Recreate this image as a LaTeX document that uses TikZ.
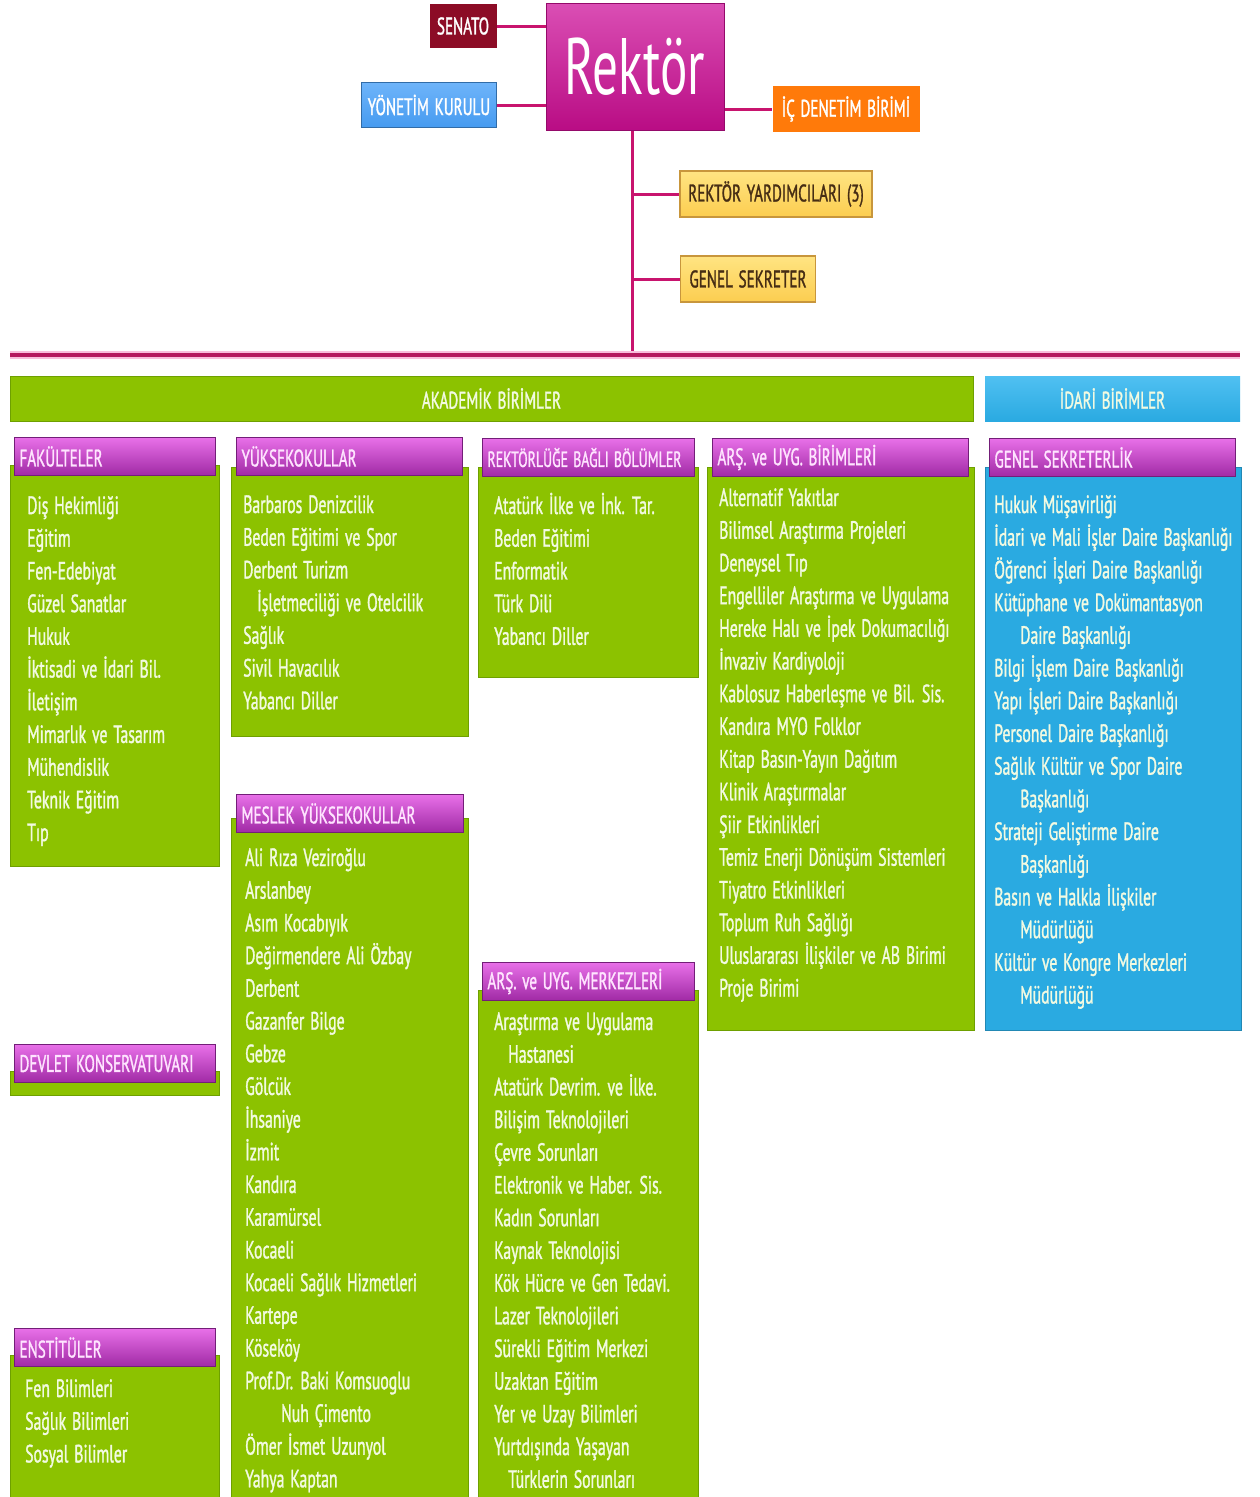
\documentclass[tikz,border=0pt]{standalone}
\usepackage{fontspec}
\setmainfont[FakeStretch=0.63,FakeBold=1.2,WordSpace=1.4]{PT Sans}
\newfontfamily\rektorfont[FakeStretch=0.64]{PT Sans}
\usetikzlibrary{positioning}
\definecolor{UniGreen}{RGB}{140,194,0}
\definecolor{UniGreenEdge}{RGB}{110,160,0}
\definecolor{UniBlue}{RGB}{42,170,225}
\definecolor{UniBlueTop}{RGB}{80,192,242}
\definecolor{HeadTop}{RGB}{232,112,232}
\definecolor{HeadBot}{RGB}{160,42,165}
\definecolor{HeadEdge}{RGB}{115,30,120}
\definecolor{HeadText}{RGB}{255,228,255}
\definecolor{ItemText}{RGB}{242,250,225}
\definecolor{SenatoRed}{RGB}{140,12,38}
\definecolor{RektorTop}{RGB}{218,78,180}
\definecolor{RektorBot}{RGB}{185,12,132}
\definecolor{KurulBlue}{RGB}{70,155,240}
\definecolor{KurulTop}{RGB}{110,180,250}
\definecolor{DenetimOrange}{RGB}{255,122,10}
\definecolor{YardYellow}{RGB}{252,205,80}
\definecolor{YardTop}{RGB}{255,228,130}
\definecolor{YardEdge}{RGB}{200,150,60}
\definecolor{YardText}{RGB}{70,45,20}
\definecolor{LinkPink}{RGB}{200,20,110}
\definecolor{BusPink}{RGB}{180,25,95}
\definecolor{GlowPink}{RGB}{248,190,220}

\newcommand{\itemfont}{\fontsize{25}{30}\selectfont}
\newcommand{\headfont}{\fontsize{24}{28}\selectfont}
\newcommand{\unitlist}[4]{%
  \foreach \t [count=\i from 0] in {#4}
    \node[item] (#1\i) at (#2,#3+\i*32.7) {\t};}

\begin{document}
\begin{tikzpicture}[x=1pt,y=-1pt,
    topbox/.style={draw=none,text=white,inner sep=0pt,font=\headfont},
    yellowbox/.style={draw=YardEdge,line width=1.2pt,top color=YardTop,bottom color=YardYellow,
      text=YardText,inner sep=0pt,minimum height=46pt,font=\headfont},
    link/.style={LinkPink,line width=3pt},
    bar/.style={inner sep=0pt,minimum height=45pt,text=ItemText,font=\fontsize{24}{28}\selectfont},
    body/.style={anchor=north west,fill=UniGreen,draw=UniGreenEdge,line width=0.8pt,inner sep=0pt},
    head/.style={anchor=north west,top color=HeadTop,bottom color=HeadBot,draw=HeadEdge,line width=1pt,
      minimum height=38pt,inner xsep=5pt,inner ysep=0pt,align=flush left,text=HeadText,font=\headfont},
    item/.style={anchor=base west,inner sep=0pt,text=ItemText,font=\itemfont}]
  \useasboundingbox[fill=white] (0,0) rectangle (1260,1497);

  \node[topbox,fill=SenatoRed,minimum width=67pt,minimum height=44pt] (senato) at (463,26) {SENATO};
  \node[topbox,top color=RektorTop,bottom color=RektorBot,draw=RektorBot!80!black,line width=1pt,
    minimum width=178pt,minimum height=127pt,font=\rektorfont\fontsize{80}{80}\selectfont] (rektor) at (635,67) {Rektör};
  \node[topbox,top color=KurulTop,bottom color=KurulBlue,draw=KurulBlue!70!black,
    minimum width=135pt,minimum height=45pt] (yonetim) at (429,105) {YÖNETİM KURULU};
  \node[topbox,fill=DenetimOrange,minimum width=147pt,minimum height=46pt] (denetim) at (846,109) {İÇ DENETİM BİRİMİ};
  \node[yellowbox,minimum width=192pt] (yardimci) at (776,194) {REKTÖR YARDIMCILARI (3)};
  \node[yellowbox,minimum width=135pt] (gensek) at (748,279) {GENEL SEKRETER};

  \coordinate (busL) at (10,355);
  \coordinate (busR) at (1240,355);
  \coordinate (trunk) at (632,355);

  \draw[link] (senato.east) -- (senato.east -| rektor.west);
  \draw[link] (yonetim.east) -- (yonetim.east -| rektor.west);
  \draw[link] (rektor.east |- denetim.west) -- (denetim.west);
  \draw[link] (rektor.south -| trunk) -- (trunk);
  \draw[link] (yardimci.west -| trunk) -- (yardimci.west);
  \draw[link] (gensek.west -| trunk) -- (gensek.west);
  \draw[GlowPink,line width=8pt] (busL) -- (busR);
  \draw[BusPink,line width=4pt] (busL) -- (busR);

  \node[bar,fill=UniGreen,draw=UniGreenEdge,minimum width=963pt] (akademik) at (491.5,398.5) {AKADEMİK BİRİMLER};
  \node[bar,top color=UniBlueTop,bottom color=UniBlue,minimum width=255pt] (idari) at (1112.5,398.5) {İDARİ BİRİMLER};

  \node[body,minimum width=209pt,minimum height=401pt] (fakbox) at (10,465) {};
  \node[head,text width=191pt] (fakhead) at (14,437) {FAKÜLTELER};
  \unitlist{fak}{27}{514}{Diş Hekimliği,Eğitim,Fen-Edebiyat,Güzel Sanatlar,Hukuk,İktisadi ve İdari Bil.,
    İletişim,Mimarlık ve Tasarım,Mühendislik,Teknik Eğitim,Tıp}

  \node[body,minimum width=209pt,minimum height=24pt] (devbox) at (10,1071) {};
  \node[head,text width=191pt] (devhead) at (14,1044) {DEVLET KONSERVATUVARI};

  \node[body,minimum width=209pt,minimum height=142pt] (ensbox) at (10,1355) {};
  \node[head,text width=191pt] (enshead) at (14,1328) {ENSTİTÜLER};
  \unitlist{ens}{25}{1397}{Fen Bilimleri,Sağlık Bilimleri,Sosyal Bilimler}

  \node[body,minimum width=237pt,minimum height=269pt] (yukbox) at (231,467) {};
  \node[head,text width=216pt] (yukhead) at (236,437) {YÜKSEKOKULLAR};
  \unitlist{yuk}{243}{513}{Barbaros Denizcilik,Beden Eğitimi ve Spor,Derbent Turizm,
    {\hspace{14pt}İşletmeciliği ve Otelcilik},Sağlık,Sivil Havacılık,Yabancı Diller}

  \node[body,minimum width=237pt,minimum height=679pt] (myobox) at (231,818) {};
  \node[head,text width=217pt] (myohead) at (236,794) {MESLEK YÜKSEKOKULLAR};
  \unitlist{myo}{245}{866}{Ali Rıza Veziroğlu,Arslanbey,Asım Kocabıyık,Değirmendere Ali Özbay,Derbent,
    Gazanfer Bilge,Gebze,Gölcük,İhsaniye,İzmit,Kandıra,Karamürsel,Kocaeli,Kocaeli Sağlık Hizmetleri,
    Kartepe,Köseköy,Prof.Dr. Baki Komsuoglu,{\hspace{36pt}Nuh Çimento},Ömer İsmet Uzunyol,Yahya Kaptan}

  \node[body,minimum width=220pt,minimum height=210pt] (rbbbox) at (478,467) {};
  \node[head,text width=202pt,font=\fontsize{22}{24}\selectfont] (rbbhead) at (482,438) {REKTÖRLÜĞE BAĞLI BÖLÜMLER};
  \unitlist{rbb}{494}{514}{Atatürk İlke ve İnk. Tar.,Beden Eğitimi,Enformatik,Türk Dili,Yabancı Diller}

  \node[body,minimum width=220pt,minimum height=507pt] (aumbox) at (478,990) {};
  \node[head,text width=202pt] (aumhead) at (482,962) {ARŞ. ve UYG. MERKEZLERİ};
  \unitlist{aum}{494}{1030}{Araştırma ve Uygulama,{\hspace{14pt}Hastanesi},Atatürk Devrim. ve İlke.,
    Bilişim Teknolojileri,Çevre Sorunları,Elektronik ve Haber. Sis.,Kadın Sorunları,Kaynak Teknolojisi,
    Kök Hücre ve Gen Tedavi.,Lazer Teknolojileri,Sürekli Eğitim Merkezi,Uzaktan Eğitim,
    Yer ve Uzay Bilimleri,Yurtdışında Yaşayan,{\hspace{14pt}Türklerin Sorunları}}

  \node[body,minimum width=267pt,minimum height=563pt] (aubbox) at (707,467) {};
  \node[head,text width=246pt] (aubhead) at (712,438) {ARŞ. ve UYG. BİRİMLERİ};
  \unitlist{aub}{719}{506}{Alternatif Yakıtlar,Bilimsel Araştırma Projeleri,Deneysel Tıp,
    Engelliler Araştırma ve Uygulama,Hereke Halı ve İpek Dokumacılığı,İnvaziv Kardiyoloji,
    Kablosuz Haberleşme ve Bil. Sis.,Kandıra MYO Folklor,Kitap Basın-Yayın Dağıtım,Klinik Araştırmalar,
    Şiir Etkinlikleri,Temiz Enerji Dönüşüm Sistemleri,Tiyatro Etkinlikleri,Toplum Ruh Sağlığı,
    Uluslararası İlişkiler ve AB Birimi,Proje Birimi}

  \node[body,fill=UniBlue,draw=UniBlue!80!black,minimum width=256pt,minimum height=563pt] (gsbox) at (985,467) {};
  \node[head,text width=236pt] (gshead) at (989,438) {GENEL SEKRETERLİK};
  \unitlist{gs}{994}{513}{Hukuk Müşavirliği,İdari ve Mali İşler Daire Başkanlığı,Öğrenci İşleri Daire Başkanlığı,
    Kütüphane ve Dokümantasyon,{\hspace{26pt}Daire Başkanlığı},Bilgi İşlem Daire Başkanlığı,
    Yapı İşleri Daire Başkanlığı,Personel Daire Başkanlığı,Sağlık Kültür ve Spor Daire,
    {\hspace{26pt}Başkanlığı},Strateji Geliştirme Daire,{\hspace{26pt}Başkanlığı},
    Basın ve Halkla İlişkiler,{\hspace{26pt}Müdürlüğü},Kültür ve Kongre Merkezleri,{\hspace{26pt}Müdürlüğü}}
\end{tikzpicture}
\end{document}
